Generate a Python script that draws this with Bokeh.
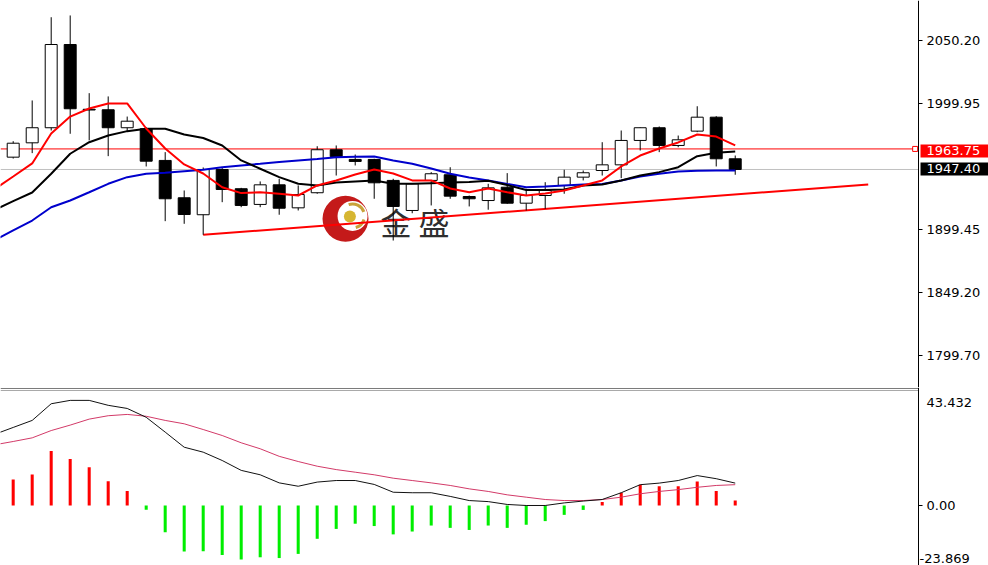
from bokeh.plotting import figure
from bokeh.layouts import column
from bokeh.models import Range1d, FixedTicker, PrintfTickFormatter, Label, LinearAxis, ColumnDataSource
from bokeh.core.properties import value
from bokeh.embed import file_html
from bokeh.resources import INLINE

# ---------------- data ----------------
bars = list(range(39))
opens = [1957.2, 1968.6, 1980.6, 2046.8, 1995.3, 1994.9, 1980.6, 1979.8, 1954.6, 1924.9,
         1911.4, 1947.4, 1932.1, 1919.6, 1935.2, 1916.9, 1928.9, 1963.1, 1955.4, 1955.4,
         1938.7, 1914.8, 1938.7, 1943.2, 1925.9, 1922.7, 1933.3, 1920.6, 1926.7, 1934.7,
         1941.3, 1946.6, 1951.1, 1970.5, 1980.6, 1966.5, 1977.9, 1989.0, 1955.9]
highs = [1969.9, 2002.3, 2068.5, 2069.9, 2008.1, 2005.5, 1989.5, 1981.0, 1961.2, 1930.7,
         1949.0, 1948.5, 1932.8, 1937.9, 1940.0, 1934.7, 1965.9, 1966.5, 1959.3, 1955.9,
         1940.0, 1936.5, 1945.3, 1949.2, 1926.7, 1936.0, 1944.5, 1932.1, 1937.3, 1947.2,
         1946.6, 1969.1, 1978.4, 1980.8, 1981.6, 1974.4, 1997.7, 1989.8, 1958.5]
lows = [1956.1, 1960.4, 1978.4, 1975.8, 1970.5, 1958.0, 1977.9, 1949.8, 1906.3, 1904.2,
        1895.5, 1921.4, 1917.4, 1917.4, 1911.4, 1914.8, 1928.1, 1942.6, 1950.6, 1924.1,
        1890.9, 1912.6, 1918.8, 1924.1, 1918.0, 1915.4, 1920.1, 1914.8, 1916.1, 1928.1,
        1938.7, 1942.6, 1940.5, 1962.5, 1961.2, 1965.1, 1977.1, 1949.8, 1943.2]
closes = [1968.3, 1980.6, 2046.8, 1995.7, 1994.7, 1980.6, 1985.8, 1954.0, 1924.1, 1911.6,
          1947.4, 1931.5, 1918.8, 1935.2, 1916.6, 1927.5, 1963.1, 1957.7, 1953.8, 1936.8,
          1918.0, 1936.0, 1944.0, 1926.2, 1924.1, 1932.8, 1920.6, 1926.7, 1930.7, 1941.3,
          1944.8, 1951.1, 1970.5, 1980.6, 1966.5, 1971.0, 1989.0, 1955.9, 1947.4]

line_bars = list(range(-1, 39))
ma_fast = [1931.5, 1941.8, 1952.2, 1976.0, 1989.5, 1995.9, 1999.9, 1999.9, 1980.0, 1964.1,
           1951.4, 1944.2, 1933.3, 1928.6, 1929.3, 1928.1, 1926.7, 1934.7, 1938.7, 1943.4,
           1947.4, 1944.2, 1938.7, 1938.7, 1932.3, 1929.3, 1932.3, 1929.3, 1926.7, 1928.3,
           1930.7, 1934.7, 1938.7, 1949.8, 1958.5, 1964.1, 1968.9, 1975.2, 1973.6, 1966.5]
ma_mid = [1915.0, 1922.2, 1929.1, 1944.0, 1959.9, 1969.1, 1974.4, 1977.9, 1979.8, 1979.8,
          1975.2, 1972.4, 1966.5, 1954.6, 1948.0, 1941.3, 1936.0, 1934.7, 1937.1, 1937.9,
          1938.7, 1936.0, 1936.0, 1936.5, 1937.0, 1937.5, 1938.5, 1935.0, 1931.1, 1931.1,
          1931.5, 1934.7, 1935.5, 1938.7, 1942.6, 1945.3, 1949.2, 1958.0, 1960.7, 1961.7]
ma_slow = [1890.9, 1898.9, 1906.8, 1917.4, 1922.7, 1929.3, 1936.0, 1941.3, 1944.0, 1944.8,
           1946.0, 1947.2, 1949.2, 1950.6, 1951.9, 1953.4, 1954.6, 1955.7, 1957.2, 1957.5,
           1957.7, 1954.6, 1951.9, 1948.2, 1944.0, 1941.0, 1938.7, 1935.9, 1933.3, 1933.9,
           1934.7, 1935.5, 1935.9, 1938.7, 1941.8, 1944.0, 1945.8, 1946.4, 1946.6, 1946.6]

trend_x = [10, 45]
trend_y = [1895.5, 1935.5]
level_price = 1963.75
bid_price = 1947.40
price_ticks = [2050.20, 1999.95, 1899.45, 1849.20, 1799.70]

dif = [27.3, 30.0, 32.7, 39.1, 40.4, 40.4, 38.5, 37.3, 33.9, 28.2,
       22.4, 20.5, 17.3, 13.5, 11.8, 8.7, 7.4, 9.0, 9.6, 9.6,
       8.1, 5.1, 4.9, 4.9, 3.5, 1.9, 1.5, 0.4, 0.0, 0.0,
       1.0, 1.7, 2.3, 4.9, 8.0, 8.6, 9.6, 11.5, 10.3, 8.6]
dea = [23.3, 24.6, 26.0, 28.8, 30.9, 33.2, 34.5, 35.0, 34.3, 32.7,
       31.4, 29.2, 26.9, 24.1, 21.8, 18.9, 16.9, 15.1, 13.8, 12.8,
       11.8, 10.5, 9.6, 8.7, 7.7, 6.4, 5.4, 4.1, 3.2, 2.3,
       1.9, 1.9, 2.3, 3.2, 4.5, 5.4, 6.1, 7.0, 7.7, 8.0]
hist = [10.0, 11.9, 20.9, 17.9, 14.7, 9.3, 5.6, -1.6, -10.3, -17.7,
        -17.6, -19.0, -20.8, -19.9, -20.2, -18.6, -12.8, -9.0, -7.0, -7.9,
        -11.1, -10.0, -7.7, -8.6, -9.4, -7.7, -8.6, -7.4, -6.0, -3.6,
        -1.7, 1.3, 4.9, 8.0, 7.4, 7.4, 9.2, 5.6, 1.9]
macd_max_label = "43.432"
macd_min_label = "-23.869"
macd_ticks = [0.0]

# ---------------- layout constants ----------------
W = 988
TOP_H = 387
BOT_H = 178
X0, X1 = -0.668, 51.33
AXIS_X = 47.647
AXIS_FONT = "DejaVu Sans"
PX = 0.7952  # price units per pixel in the top panel

x_range = Range1d(X0, X1)


def make_fig(h, yr):
    f = figure(width=W, height=h, x_range=x_range, y_range=yr,
               output_backend="svg", toolbar_location=None, x_axis_location=None,
               y_axis_location=None, min_border_left=0, min_border_right=0,
               min_border_top=0, min_border_bottom=0, outline_line_color=None,
               background_fill_color="white", border_fill_color="white")
    f.xgrid.visible = False
    f.ygrid.visible = False
    return f


def add_axis(f, ticks):
    a = LinearAxis(fixed_location=AXIS_X, ticker=FixedTicker(ticks=ticks),
                   formatter=PrintfTickFormatter(format="%.2f"))
    a.major_tick_out = 4
    a.major_tick_in = 0
    a.minor_tick_out = 0
    a.minor_tick_in = 0
    a.major_label_standoff = 4
    a.axis_line_color = "black"
    a.major_tick_line_color = "black"
    a.major_label_text_font = AXIS_FONT
    a.major_label_text_font_size = "13px"
    a.major_label_text_color = "black"
    f.add_layout(a, "right")
    return a


top = make_fig(TOP_H, Range1d(1774.0, 2081.8))
add_axis(top, price_ticks)

# horizontal levels (stop at the price axis)
top.segment(x0=[X0], y0=[bid_price], x1=[AXIS_X], y1=[bid_price], line_color="#c0c0c0", line_width=1)
top.segment(x0=[X0], y0=[level_price], x1=[AXIS_X - 0.1], y1=[level_price], line_color="#ff0000", line_width=1)
top.scatter(x=[47.47], y=[level_price], marker="square", size=5, fill_color="white", line_color="#ff0000")

# watermark logo
top.scatter(x=[17.49], y=[1908.2], size=46, fill_color="#c41a1a", line_color=None)
top.scatter(x=[17.86], y=[1910.4], size=30, fill_color="white", line_color=None)
top.arc(x=[17.86], y=[1910.4], radius=12, radius_units="screen", start_angle=0.35, end_angle=1.9,
        line_color="#c9a23a", line_width=3)
top.arc(x=[17.86], y=[1910.4], radius=12, radius_units="screen", start_angle=-1.3, end_angle=-0.3,
        line_color="#c9a23a", line_width=3)
top.scatter(x=[17.72], y=[1910.0], size=12, fill_color="#d6b632", line_color=None)
top.text(x=[19.33], y=[1906.0], text=["金 盛"], text_font=value("Noto Sans CJK SC"),
         text_font_size="31px", text_color="#2e2e2e", text_baseline="middle", text_align="left")

# trend line
top.line(trend_x, trend_y, line_color="#ff0000", line_width=2)

# candles
body_top = [max(o, c) for o, c in zip(opens, closes)]
body_bot = [min(o, c) for o, c in zip(opens, closes)]
fills = ["white" if c > o else "black" for o, c in zip(opens, closes)]
src = ColumnDataSource(dict(x=bars, h=highs, l=lows, t=body_top, b=body_bot, f=fills))
top.segment(x0="x", y0="l", x1="x", y1="h", source=src, line_color="black", line_width=1)
top.vbar(x="x", width=0.63, top="t", bottom="b", source=src, fill_color="f", line_color="black", line_width=1)

# moving averages
top.line(line_bars, ma_slow, line_color="#0000cc", line_width=2)
top.line(line_bars, ma_mid, line_color="black", line_width=2)
top.line(line_bars, ma_fast, line_color="#ff0000", line_width=2)

# price boxes on the axis
top.add_layout(Label(x=AXIS_X, y=level_price - 2 * PX, text=f"{level_price:.2f}", x_offset=2,
                     text_font=AXIS_FONT, text_font_size="13px", text_color="white",
                     text_baseline="middle", text_align="left",
                     background_fill_color="#ff0000", padding=(6, 20, 2, 2)))
top.add_layout(Label(x=AXIS_X, y=bid_price + 0.6 * PX, text=f"{bid_price:.2f}", x_offset=2,
                     text_font=AXIS_FONT, text_font_size="13px", text_color="white",
                     text_baseline="middle", text_align="left",
                     background_fill_color="black", padding=(6, 20, 2, 2)))

# ---------------- MACD panel ----------------
bot = make_fig(BOT_H, Range1d(-23.06, 45.35))
add_axis(bot, macd_ticks)

bot.segment(x0=[X0], y0=[44.97], x1=[AXIS_X], y1=[44.97], line_color="#7a7a7a", line_width=1)
bot.segment(x0=[X0], y0=[44.2], x1=[AXIS_X], y1=[44.2], line_color="#a8a8a8", line_width=1)

hcol = ["#ff0000" if v > 0 else "#00ee00" for v in hist]
bot.vbar(x=bars, width=0.16, top=hist, bottom=0, fill_color=hcol, line_color=None)
bot.line(line_bars, dea, line_color="#d23a68", line_width=1)
bot.line(line_bars, dif, line_color="#111111", line_width=1)

bot.add_layout(Label(x=AXIS_X, y=39.7, text=macd_max_label, x_offset=8,
                     text_font=AXIS_FONT, text_font_size="13px", text_color="black",
                     text_baseline="middle", text_align="left"))
bot.add_layout(Label(x=AXIS_X, y=-20.3, text=macd_min_label, x_offset=1,
                     text_font=AXIS_FONT, text_font_size="13px", text_color="black",
                     text_baseline="middle", text_align="left"))

layout = column(top, bot, spacing=0)
open("out.html", "w").write(file_html(layout, INLINE))
